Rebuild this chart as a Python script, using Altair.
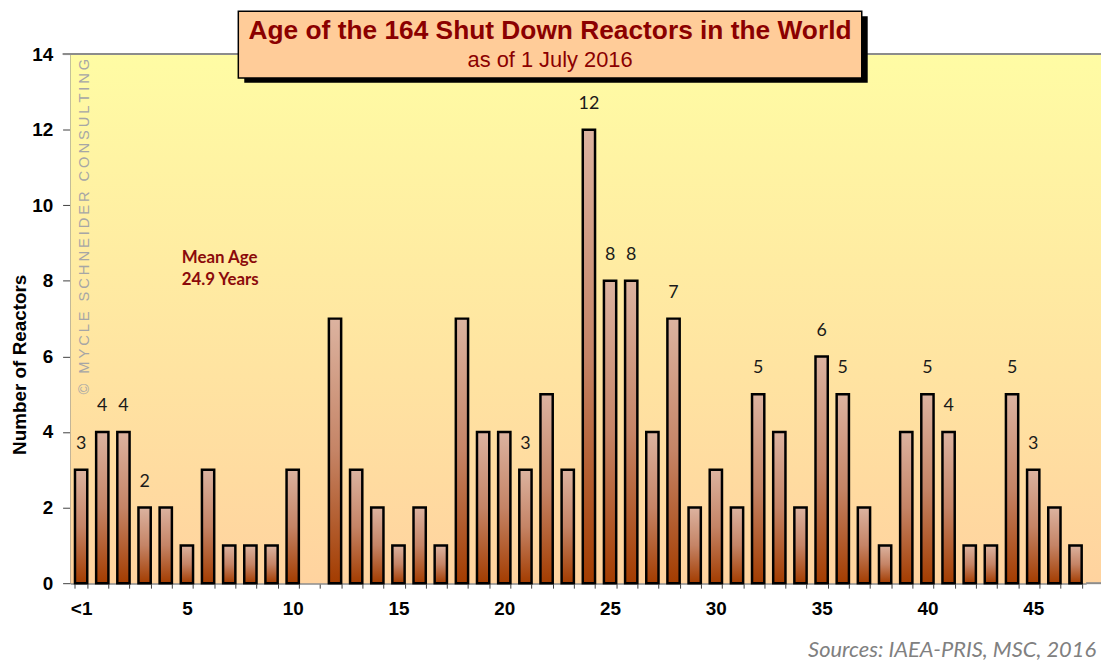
import altair as alt
import pandas as pd

# ---- data ----
ages = list(range(0, 48))
reactors = [3, 4, 4, 2, 2, 1, 3, 1, 1, 1, 3, 0, 7, 3, 2, 1, 2, 1, 7, 4,
            4, 3, 5, 3, 12, 8, 8, 4, 7, 2, 3, 2, 5, 4, 2, 6, 5, 2, 1, 4,
            5, 4, 1, 1, 5, 3, 2, 1]
labelled_ages = [0, 1, 2, 3, 21, 24, 25, 26, 28, 32, 35, 36, 40, 41, 44, 45]
y_ticks = [0, 2, 4, 6, 8, 10, 12, 14]

title_text = "Age of the 164 Shut Down Reactors in the World"
subtitle_text = "as of 1 July 2016"
y_title = "Number of Reactors"
mean_lines = ["Mean Age", "24.9 Years"]
watermark = "© MYCLE SCHNEIDER CONSULTING"
source_text = "Sources: IAEA-PRIS, MSC, 2016"

df = pd.DataFrame({"age": ages, "n": reactors})
lab = df[df["age"].isin(labelled_ages)].copy()

W, H = 1023, 533
one = alt.Data(values=[{"k": 1}])

bg_grad = {"gradient": "linear", "x1": 0, "y1": 0, "x2": 0, "y2": 1,
           "stops": [{"offset": 0, "color": "#fffca4"},
                     {"offset": 1, "color": "#ffd39f"}]}
bar_grad = {"gradient": "linear", "x1": 0, "y1": 0, "x2": 0, "y2": 1,
            "stops": [{"offset": 0, "color": "#dcb3a0"},
                      {"offset": 0.5, "color": "#c58466"},
                      {"offset": 1, "color": "#a33c00"}]}

background = alt.Chart(one).mark_rect(color=bg_grad).encode(
    x=alt.value(0), x2=alt.value(W + 15), y=alt.value(0), y2=alt.value(H))

top_rule = alt.Chart(one).mark_rule(color="#8c8c8c", strokeWidth=2).encode(
    x=alt.value(-8), x2=alt.value(W + 15), y=alt.value(0))

bottom_ext = alt.Chart(one).mark_rule(color="#8c8c8c", strokeWidth=2).encode(
    x=alt.value(W), x2=alt.value(W + 15), y=alt.value(H))

wm_spaced = "\u2009".join(list(watermark))
wm = alt.Chart(one).mark_text(text=wm_spaced, angle=270, align="left",
                              baseline="middle", font="Liberation Sans",
                              fontSize=14.8, color="#a6a6a6").encode(
    x=alt.value(15), y=alt.value(343))

x_enc = alt.X("age:O", title=None,
              scale=alt.Scale(domain=ages, paddingInner=0.42, paddingOuter=0.21),
              axis=alt.Axis(tickBand="extent", labelAngle=0,
                            labelExpr="datum.value == 0 ? '<1' : (datum.value % 5 == 0 ? datum.label : '')",
                            labelFont="Liberation Sans", labelFontSize=19,
                            labelFontWeight="bold", labelColor="black",
                            labelPadding=12, tickSize=5, tickColor="#404040",
                            tickWidth=1, domainColor="#8c8c8c", domainWidth=2,
                            grid=False))

y_enc = alt.Y("n:Q", title=None,
              scale=alt.Scale(domain=[0, 14], nice=False),
              axis=alt.Axis(values=y_ticks, labelFont="Liberation Sans",
                            labelFontSize=19, labelFontWeight="bold",
                            labelColor="black", labelPadding=10, tickSize=8,
                            tickColor="#404040", domainColor="#8c8c8c",
                            domainWidth=2, grid=False))

bars = alt.Chart(df).transform_filter("datum.n > 0").mark_bar(
    color=bar_grad, stroke="black", strokeWidth=2.5).encode(x=x_enc, y=y_enc)

labels = alt.Chart(lab).mark_text(font="Lato", fontSize=18, color="#1a1a1a",
                                  baseline="middle", dy=-26).encode(
    x="age:O", y="n:Q", text="n:Q")

mean1 = alt.Chart(one).mark_text(text=mean_lines[0], align="left",
                                 baseline="middle", font="Lato", fontSize=17,
                                 fontWeight="bold", color="#8b0a0a").encode(
    x=alt.value(112), y=alt.value(205))
mean2 = alt.Chart(one).mark_text(text=mean_lines[1], align="left",
                                 baseline="middle", font="Lato", fontSize=17,
                                 fontWeight="bold", color="#8b0a0a").encode(
    x=alt.value(112), y=alt.value(228))

shadow = alt.Chart(one).mark_rect(color="black").encode(
    x=alt.value(175), x2=alt.value(803), y=alt.value(-38), y2=alt.value(29))
box = alt.Chart(one).mark_rect(color="#ffcc99", stroke="black",
                               strokeWidth=1.5).encode(
    x=alt.value(169), x2=alt.value(797), y=alt.value(-43), y2=alt.value(24))
t1 = alt.Chart(one).mark_text(text=title_text, font="Liberation Sans",
                              fontSize=26.5, fontWeight="bold", color="#8b0000",
                              baseline="middle").encode(
    x=alt.value(483), y=alt.value(-23))
t2 = alt.Chart(one).mark_text(text=subtitle_text, font="Liberation Sans",
                              fontSize=22, color="#8b0000",
                              baseline="middle").encode(
    x=alt.value(483), y=alt.value(6))

ytitle = alt.Chart(one).mark_text(text=y_title, angle=270, align="center",
                                  baseline="middle", font="Liberation Sans",
                                  fontSize=19, fontWeight="bold",
                                  color="black").encode(
    x=alt.value(-51), y=alt.value(313))

source = alt.Chart(one).mark_text(text=source_text, align="right",
                                  baseline="middle", font="Lato",
                                  fontSize=22, fontStyle="italic",
                                  color="#808080").encode(
    x=alt.value(1033), y=alt.value(600))

chart = alt.layer(background, wm, top_rule, bottom_ext, bars, labels,
                  mean1, mean2, shadow, box, t1, t2, ytitle, source).properties(
    width=W, height=H,
    padding={"left": 63, "top": 44, "right": 15, "bottom": 77},
    autosize=alt.AutoSizeParams(type="none"),
).configure_view(stroke=None).configure(background="white")

chart.save("out.html", embed_options={"renderer": "svg", "actions": False})
